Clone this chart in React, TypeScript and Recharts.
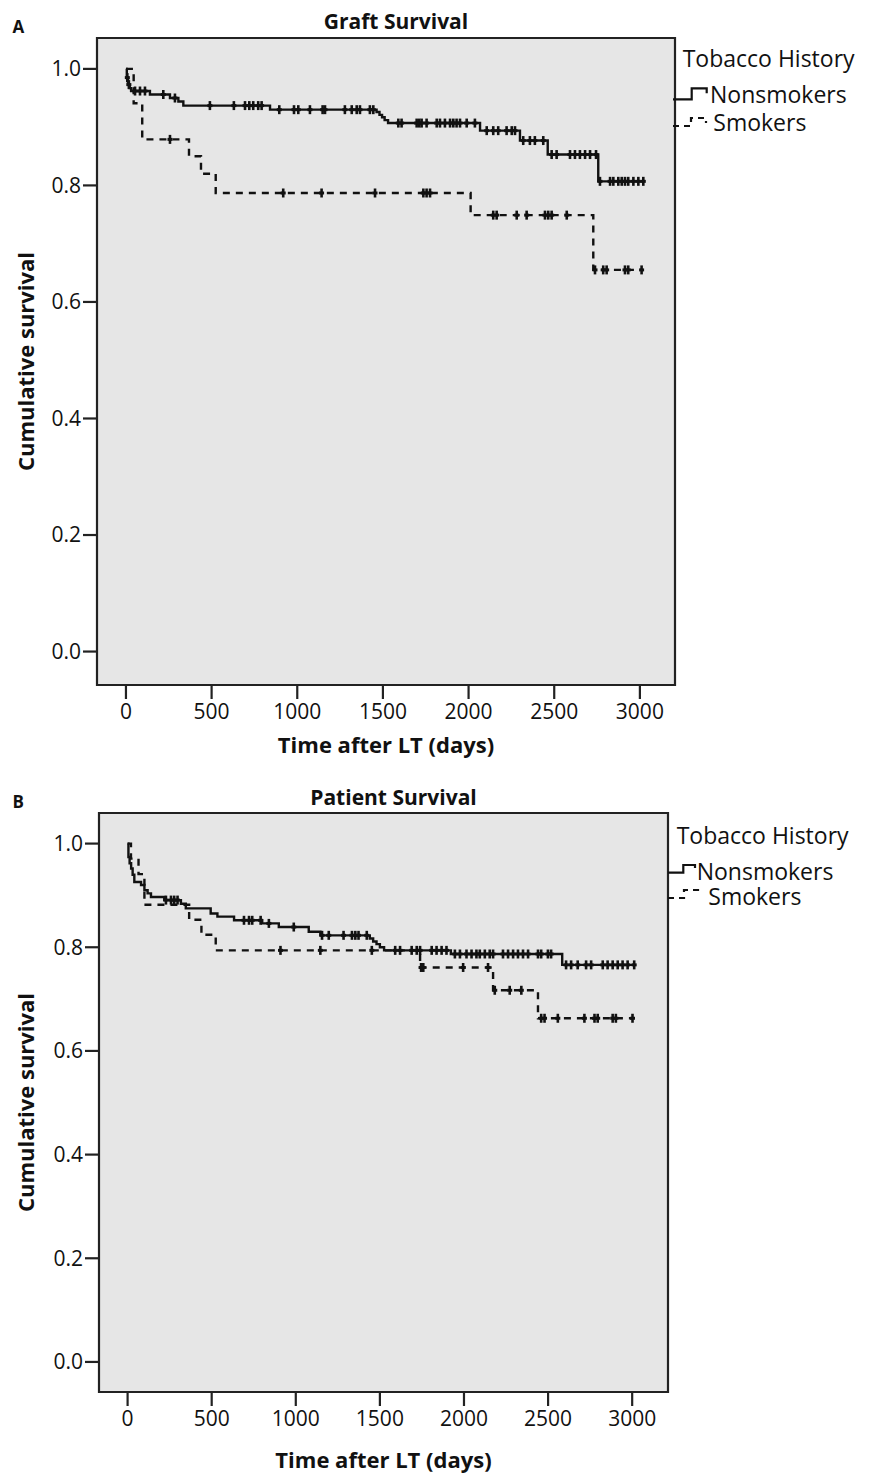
import React from "react";
import { LineChart, Line, XAxis, YAxis, ReferenceArea, Legend } from "recharts";

const FONT = "'Open Sans', 'Noto Sans', sans-serif";
const INK = "#111";
const EDGE = "#222";
const PANEL = "#e6e6e6";

const xTicks = [0, 500, 1000, 1500, 2000, 2500, 3000];
const yTicks = [0, 0.2, 0.4, 0.6, 0.8, 1.0];
const legendTitle = "Tobacco History";
const groupNames = ["Nonsmokers", "Smokers"];

// panel A: graft survival (event times in days, survival after the event)
const graftNonTimes = [0, 5, 12, 22, 30, 140, 257, 306, 335, 841, 1463, 1480, 1495, 1510, 1530, 2067, 2300, 2462, 2757];
const graftNonSurv = [1.0, 0.985, 0.973, 0.967, 0.962, 0.956, 0.95, 0.944, 0.937, 0.93, 0.926, 0.921, 0.917, 0.912, 0.907, 0.894, 0.877, 0.853, 0.807];
const graftNonCensored = [
  8, 17, 53, 82, 111, 218, 286, 490, 630, 695, 720, 743, 772, 792, 895, 981, 1006, 1074, 1148, 1162, 1278, 1318,
  1347, 1366, 1424, 1444, 1590, 1609, 1697, 1712, 1726, 1755, 1814, 1833, 1862, 1892, 1911, 1930, 1950, 1989,
  2037, 2106, 2144, 2173, 2222, 2252, 2271, 2319, 2358, 2387, 2436, 2485, 2514, 2592, 2621, 2650, 2680, 2709,
  2744, 2767, 2826, 2845, 2874, 2894, 2913, 2932, 2962, 2991, 3020,
];
const graftSmkTimes = [0, 45, 95, 368, 438, 524, 2012, 2728];
const graftSmkSurv = [1.0, 0.941, 0.879, 0.85, 0.82, 0.787, 0.749, 0.655];
const graftSmkCensored = [257, 918, 1142, 1454, 1736, 1755, 1775, 2144, 2164, 2281, 2339, 2446, 2465, 2485, 2573, 2738, 2786, 2806, 2913, 2932, 3010];

// panel B: patient survival
const patientNonTimes = [0, 5, 12, 21, 30, 40, 80, 100, 119, 139, 218, 317, 346, 494, 534, 633, 800, 899, 1077, 1146, 1440, 1460, 1480, 1500, 1525, 1922, 2584];
const patientNonSurv = [1.0, 0.974, 0.962, 0.952, 0.94, 0.926, 0.92, 0.91, 0.904, 0.897, 0.891, 0.884, 0.875, 0.865, 0.859, 0.852, 0.846, 0.839, 0.83, 0.823, 0.817, 0.811, 0.806, 0.8, 0.794, 0.787, 0.766];
const patientNonCensored = [
  228, 258, 277, 297, 692, 722, 741, 791, 840, 988, 1156, 1196, 1284, 1334, 1354, 1373, 1422, 1591, 1620, 1689,
  1719, 1739, 1808, 1837, 1867, 1896, 1946, 1976, 2015, 2045, 2074, 2094, 2124, 2153, 2173, 2232, 2262, 2292,
  2321, 2351, 2381, 2440, 2459, 2499, 2518, 2607, 2637, 2676, 2726, 2756, 2825, 2854, 2884, 2914, 2943, 2973, 3012,
];
const patientSmkTimes = [0, 20, 65, 100, 366, 439, 524, 1739, 2173, 2440];
const patientSmkSurv = [1.0, 0.971, 0.941, 0.882, 0.853, 0.824, 0.794, 0.761, 0.717, 0.663];
const patientSmkCensored = [909, 1146, 1452, 1745, 1758, 1995, 2143, 2183, 2272, 2341, 2459, 2479, 2558, 2716, 2776, 2795, 2884, 2903, 3002];

type Pt = { t: number; s: number; c: boolean };

// merge events and censored times into one KM step series
function buildKM(times: number[], surv: number[], censored: number[]): Pt[] {
  const survAt = (t: number) => {
    let s = surv[0];
    for (let i = 0; i < times.length; i++) if (times[i] <= t) s = surv[i];
    return s;
  };
  const pts: Pt[] = times.map((t, i) => ({ t, s: surv[i], c: false }));
  for (const t of censored) pts.push({ t, s: survAt(t), c: true });
  return pts.sort((a, b) => a.t - b.t || Number(a.c) - Number(b.c));
}

function CensorMark(props: any) {
  const { cx, cy, payload, index } = props;
  if (!payload || !payload.c || cx == null) return <g key={`n${index}`} />;
  return (
    <g key={`c${index}`}>
      <line x1={cx} x2={cx} y1={cy - 4.5} y2={cy + 4.5} stroke={INK} strokeWidth={2.6} />
      <line x1={cx - 2.5} x2={cx + 2.5} y1={cy} y2={cy} stroke={INK} strokeWidth={3} />
    </g>
  );
}

type LegendGeo = { left: number; top: number; titleX: number; titleY: number; rows: { path: string; textX: number; textY: number }[] };

function KMLegend({ geo }: { geo: LegendGeo }) {
  return (
    <svg width={211} height={110} style={{ display: "block", overflow: "visible" }}>
      <text x={geo.titleX} y={geo.titleY} fontFamily={FONT} fontSize={23} fill={INK}>
        {legendTitle}
      </text>
      {geo.rows.map((r, i) => (
        <g key={i}>
          <path d={r.path} fill="none" stroke={INK} strokeWidth={2.2} strokeDasharray={i === 1 ? "6 5" : undefined} />
          <text x={r.textX} y={r.textY} fontFamily={FONT} fontSize={23} fill={INK}>
            {groupNames[i]}
          </text>
        </g>
      ))}
    </svg>
  );
}

type PanelProps = {
  top: number;
  height: number;
  xAxisHeight: number;
  margin: { top: number; right: number; bottom: number; left: number };
  xDomain: [number, number];
  yDomain: [number, number];
  letter: string;
  title: string;
  titleY: number;
  non: Pt[];
  smk: Pt[];
  legend: LegendGeo;
};

function KMPanel(p: PanelProps) {
  const plotLeft = p.margin.left + 60;
  const plotRight = 871 - p.margin.right;
  const midX = (plotLeft + plotRight) / 2;
  return (
    <div style={{ position: "absolute", left: 0, top: p.top, width: 871, height: p.height }}>
      <LineChart width={871} height={p.height} margin={p.margin}>
        <ReferenceArea
          x1={p.xDomain[0]}
          x2={p.xDomain[1]}
          y1={p.yDomain[0]}
          y2={p.yDomain[1]}
          fill={PANEL}
          fillOpacity={1}
          stroke={EDGE}
          strokeWidth={2.2}
          ifOverflow="visible"
        />
        <XAxis
          type="number"
          dataKey="t"
          domain={p.xDomain}
          ticks={xTicks}
          interval={0}
          allowDataOverflow
          axisLine={false}
          height={p.xAxisHeight}
          tickSize={14}
          tickMargin={5}
          tickLine={{ stroke: EDGE, strokeWidth: 2.2 }}
          tick={{ fontSize: 21, fontFamily: FONT, fill: INK }}
          label={{
            value: "Time after LT (days)",
            position: "insideBottom",
            offset: 7,
            fontSize: 22,
            fontWeight: 700,
            fontFamily: FONT,
            fill: INK,
          }}
        />
        <YAxis
          type="number"
          domain={p.yDomain}
          ticks={yTicks}
          interval={0}
          allowDataOverflow
          axisLine={false}
          width={60}
          tickSize={14}
          tickMargin={2}
          tickLine={{ stroke: EDGE, strokeWidth: 2.2 }}
          tick={{ fontSize: 21, fontFamily: FONT, fill: INK }}
          tickFormatter={(v: number) => v.toFixed(1)}
          label={{
            content: (lp: any) => {
              const vb = lp.viewBox || { y: 0, height: 0 };
              const cy = vb.y + vb.height / 2;
              return (
                <text
                  x={25}
                  y={cy}
                  transform={`rotate(-90 25 ${cy})`}
                  textAnchor="middle"
                  dominantBaseline="central"
                  fontFamily={FONT}
                  fontSize={22}
                  fontWeight={700}
                  fill={INK}
                >
                  Cumulative survival
                </text>
              );
            },
          }}
        />
        <Legend
          layout="horizontal"
          verticalAlign="middle"
          align="center"
          wrapperStyle={{ left: p.legend.left, top: p.legend.top, width: 211, height: 110 }}
          content={() => <KMLegend geo={p.legend} />}
        />
        <Line
          data={p.non}
          dataKey="s"
          name={groupNames[0]}
          type="stepAfter"
          stroke={INK}
          strokeWidth={2.4}
          dot={CensorMark}
          activeDot={false}
          isAnimationActive={false}
        />
        <Line
          data={p.smk}
          dataKey="s"
          name={groupNames[1]}
          type="stepAfter"
          stroke={INK}
          strokeWidth={2.4}
          strokeDasharray="7 6"
          dot={CensorMark}
          activeDot={false}
          isAnimationActive={false}
        />
      </LineChart>
      <svg width={871} height={p.height} style={{ position: "absolute", left: 0, top: 0, pointerEvents: "none" }}>
        <text x={12.5} y={33} fontFamily={FONT} fontSize={17} fontWeight={700} fill={INK}>
          {p.letter}
        </text>
        <text x={midX + 10} y={p.titleY} textAnchor="middle" fontFamily={FONT} fontSize={21} fontWeight={700} fill={INK}>
          {p.title}
        </text>
      </svg>
    </div>
  );
}

export default function App() {
  const graftNon = buildKM(graftNonTimes, graftNonSurv, graftNonCensored);
  const graftSmk = buildKM(graftSmkTimes, graftSmkSurv, graftSmkCensored);
  const patientNon = buildKM(patientNonTimes, patientNonSurv, patientNonCensored);
  const patientSmk = buildKM(patientSmkTimes, patientSmkSurv, patientSmkCensored);

  return (
    <div style={{ position: "absolute", left: 0, top: 0, width: 871, height: 1477, background: "#fff" }}>
      <KMPanel
        top={0}
        height={760}
        xAxisHeight={75}
        margin={{ top: 38, right: 196, bottom: 0, left: 37 }}
        xDomain={[-169, 3205]}
        yDomain={[-0.0574, 1.053]}
        letter="A"
        title="Graft Survival"
        titleY={29}
        non={graftNon}
        smk={graftSmk}
        legend={{
          left: 660,
          top: 40,
          titleX: 22.7,
          titleY: 26.7,
          rows: [
            { path: "M13 59.3 H31.7 V48.3 H46.7 V53.3", textX: 50, textY: 63.3 },
            { path: "M13 86 H31 V78 H46 V83", textX: 53.3, textY: 90.7 },
          ],
        }}
      />
      <KMPanel
        top={775}
        height={700}
        xAxisHeight={83}
        margin={{ top: 38, right: 203, bottom: 0, left: 39 }}
        xDomain={[-170, 3213]}
        yDomain={[-0.058, 1.059]}
        letter="B"
        title="Patient Survival"
        titleY={30}
        non={patientNon}
        smk={patientSmk}
        legend={{
          left: 620,
          top: 15,
          titleX: 56.7,
          titleY: 54,
          rows: [
            { path: "M48 82.7 H63.3 V75 H75 V78", textX: 76.7, textY: 90 },
            { path: "M48 108 H64 V100 H78 V105", textX: 88.3, textY: 115 },
          ],
        }}
      />
    </div>
  );
}
